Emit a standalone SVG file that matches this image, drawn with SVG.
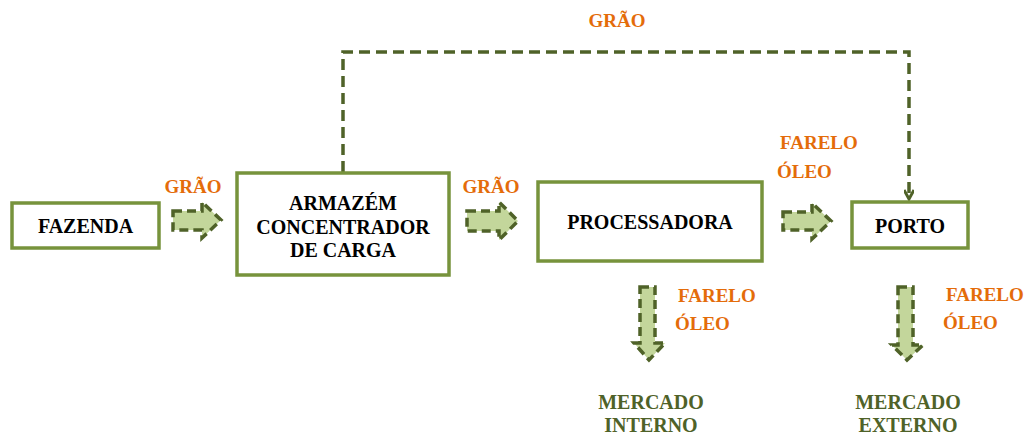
<svg xmlns="http://www.w3.org/2000/svg" width="1027" height="436" viewBox="0 0 1027 436">
<style>
.box{fill:#fff;stroke:#77933C;stroke-width:3.5}
text{font-family:'Liberation Serif','Times New Roman',Tinos,'DejaVu Serif',serif;font-weight:bold}
.t{font-size:20px;fill:#000;text-anchor:middle}
.o{font-size:19px;fill:#E46C0A}
.g{font-size:20px;fill:#4F6228;text-anchor:middle}
.blk{fill:#C3D69B;stroke:#4F6228;stroke-width:3.5;stroke-dasharray:9 5;stroke-linejoin:miter}
.dash{fill:none;stroke:#4F6228;stroke-width:3.5;stroke-dasharray:11 6}
</style>
<defs>
<marker id="ah" viewBox="0 0 12 10" refX="10" refY="5" markerWidth="12" markerHeight="10" markerUnits="userSpaceOnUse" orient="auto">
<path d="M1,0 L10,5 L1,10" fill="none" stroke="#4F6228" stroke-width="3"/>
</marker>
</defs>
<rect width="1027" height="436" fill="#fff"/>
<g id="connectors">
<path class="dash" d="M343,172 V52 H909 V199" marker-end="url(#ah)"/>
<path class="blk" d="M173,211 H202 V202 L221,220 L202,238 V230 H173 Z"/>
<path class="blk" d="M467,211 H499 V202 L518,221 L499,240 V231 H467 Z"/>
<path class="blk" d="M783,212 H812 V203 L831,221 L812,239 V230 H783 Z"/>
<path class="blk" d="M640,287 H655 V343 H665 L649,360 L634,343 H640 Z"/>
<path class="blk" d="M898,287 H913 V345 H923 L907,360 L892,345 H898 Z"/>
</g>
<g id="labels">
<text class="o" x="617" y="27" text-anchor="middle">GRÃO</text>
<text class="o" x="193" y="193" text-anchor="middle">GRÃO</text>
<text class="o" x="491" y="193" text-anchor="middle">GRÃO</text>
<text class="o" x="780" y="149">FARELO</text>
<text class="o" x="777" y="178">ÓLEO</text>
<text class="o" x="678" y="302">FARELO</text>
<text class="o" x="675" y="330">ÓLEO</text>
<text class="o" x="946" y="301">FARELO</text>
<text class="o" x="943" y="329">ÓLEO</text>
</g>
<g id="fazenda">
<rect class="box" x="12" y="203" width="147" height="45"/>
<text class="t" x="85.5" y="233">FAZENDA</text>
</g>
<g id="armazem">
<rect class="box" x="237" y="173" width="212" height="102"/>
<text class="t" x="343" y="210">ARMAZÉM</text>
<text class="t" x="343" y="234">CONCENTRADOR</text>
<text class="t" x="343" y="257">DE CARGA</text>
</g>
<g id="processadora">
<rect class="box" x="538" y="182" width="224" height="79"/>
<text class="t" x="650" y="229">PROCESSADORA</text>
</g>
<g id="porto">
<rect class="box" x="852" y="202" width="116" height="46"/>
<text class="t" x="910" y="233">PORTO</text>
</g>
<g id="mercado-interno">
<text class="g" x="651" y="409">MERCADO</text>
<text class="g" x="651" y="432">INTERNO</text>
</g>
<g id="mercado-externo">
<text class="g" x="908" y="409">MERCADO</text>
<text class="g" x="908" y="432">EXTERNO</text>
</g>
</svg>
